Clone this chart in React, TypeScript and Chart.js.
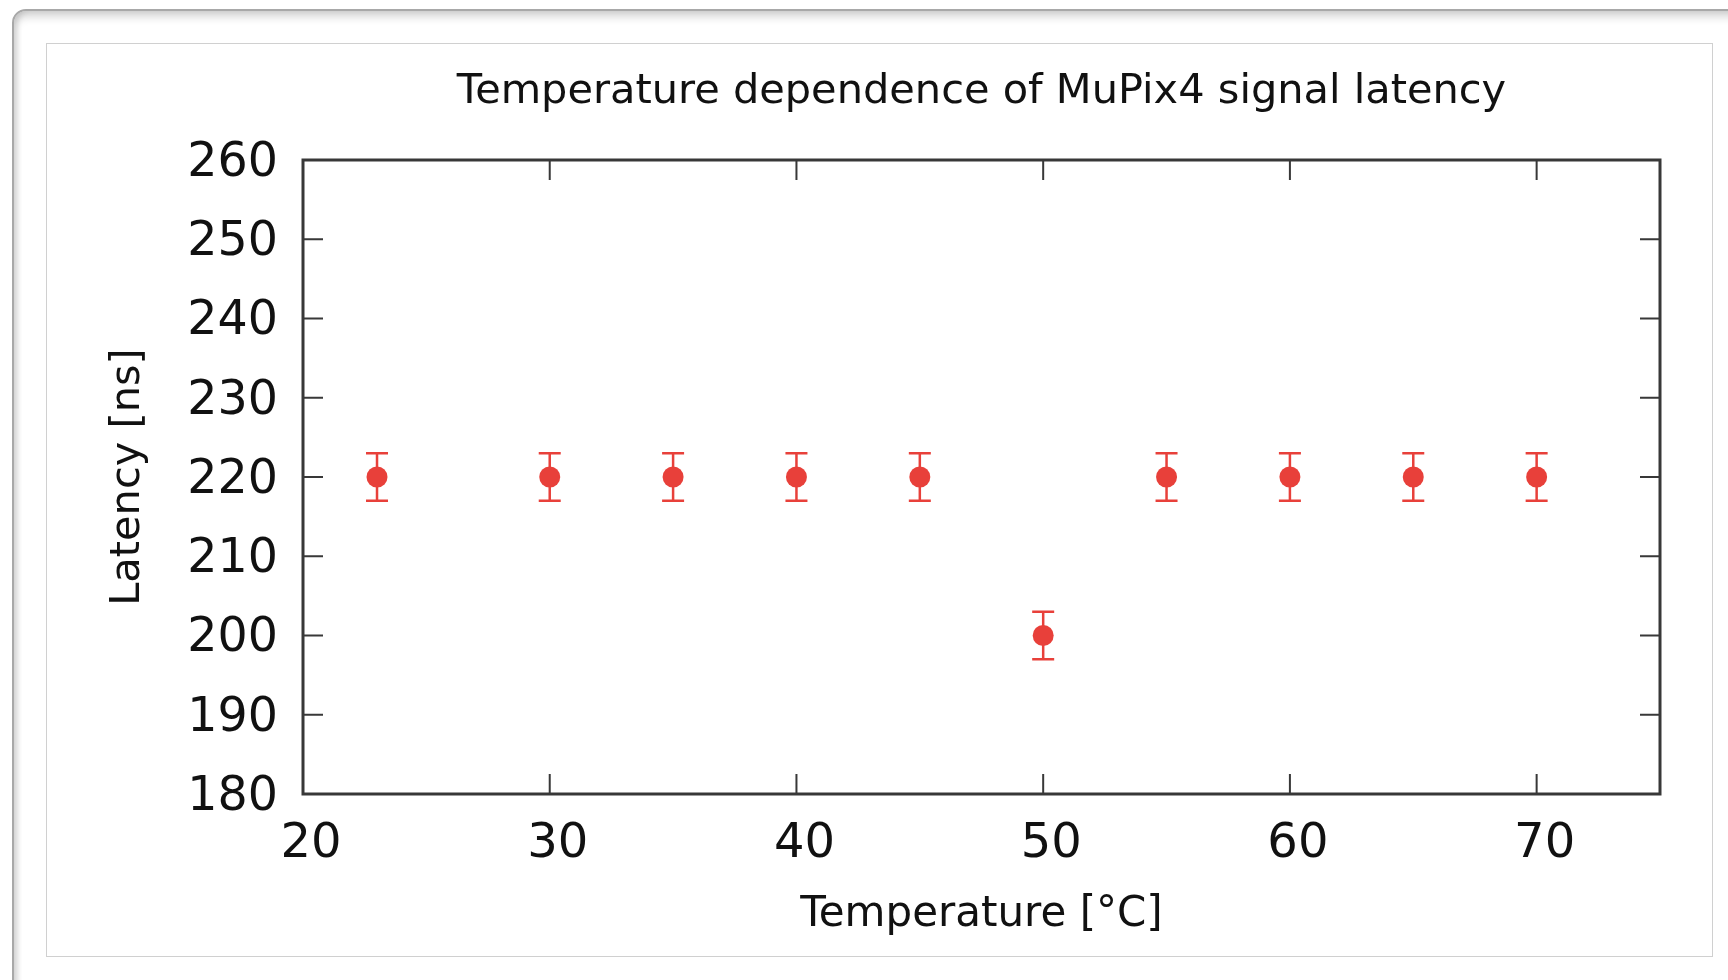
import React, { useEffect, useRef } from "react";
import { Chart, registerables } from "chart.js";

Chart.register(...registerables);

// ---- data ----
const temperatures = [23, 30, 35, 40, 45, 50, 55, 60, 65, 70];
const latencies = [220, 220, 220, 220, 220, 200, 220, 220, 220, 220];
const latencyErrors = [3, 3, 3, 3, 3, 3, 3, 3, 3, 3];
const xTickValues = [20, 30, 40, 50, 60, 70];
const yTickValues = [180, 190, 200, 210, 220, 230, 240, 250, 260];
const xRange = [20, 75];
const yRange = [180, 260];
const chartTitle = "Temperature dependence of MuPix4 signal latency";
const xAxisTitle = "Temperature [°C]";
const yAxisTitle = "Latency [ns]";

const FONT = "'DejaVu Sans', 'Liberation Sans', sans-serif";
const RED = "rgb(232, 64, 58)";
const AXIS = "#383838";
const TEXT = "#111111";

const errorBarsPlugin = {
  id: "errorBars",
  beforeDatasetsDraw(chart: any) {
    const { ctx, scales } = chart;
    const xs = scales.x;
    const ys = scales.y;
    ctx.save();
    ctx.strokeStyle = RED;
    ctx.lineWidth = 2.5;
    const cap = 11;
    ctx.beginPath();
    temperatures.forEach((t, i) => {
      const px = xs.getPixelForValue(t);
      const top = ys.getPixelForValue(latencies[i] + latencyErrors[i]);
      const bot = ys.getPixelForValue(latencies[i] - latencyErrors[i]);
      ctx.moveTo(px, top);
      ctx.lineTo(px, bot);
      ctx.moveTo(px - cap, top);
      ctx.lineTo(px + cap, top);
      ctx.moveTo(px - cap, bot);
      ctx.lineTo(px + cap, bot);
    });
    ctx.stroke();
    ctx.restore();
  },
};

const framePlugin = {
  id: "gnuplotFrame",
  beforeDatasetsDraw(chart: any) {
    const { ctx, chartArea: a, scales } = chart;
    const xs = scales.x;
    const ys = scales.y;
    const L = 20;
    ctx.save();
    ctx.strokeStyle = AXIS;
    ctx.lineWidth = 2;
    ctx.beginPath();
    xs.ticks.forEach((t: any) => {
      const px = xs.getPixelForValue(t.value);
      ctx.moveTo(px, a.bottom);
      ctx.lineTo(px, a.bottom - L);
      ctx.moveTo(px, a.top);
      ctx.lineTo(px, a.top + L);
    });
    ys.ticks.forEach((t: any) => {
      const py = ys.getPixelForValue(t.value);
      ctx.moveTo(a.left, py);
      ctx.lineTo(a.left + L, py);
      ctx.moveTo(a.right, py);
      ctx.lineTo(a.right - L, py);
    });
    ctx.stroke();
    ctx.lineWidth = 3;
    ctx.strokeRect(a.left, a.top, a.right - a.left, a.bottom - a.top);
    ctx.restore();
  },
};

export default function App() {
  const ref = useRef<HTMLCanvasElement>(null);

  useEffect(() => {
    if (!ref.current) return;
    const chart = new Chart(ref.current, {
      type: "scatter",
      data: {
        datasets: [
          {
            data: temperatures.map((t, i) => ({ x: t, y: latencies[i] })),
            backgroundColor: RED,
            borderColor: RED,
            borderWidth: 0,
            pointRadius: 10.5,
            pointHoverRadius: 10.5,
          },
        ],
      },
      options: {
        animation: false,
        responsive: false,
        events: [],
        layout: { padding: { left: 0, right: 68, top: 0, bottom: 0 } },
        plugins: {
          legend: { display: false },
          tooltip: { enabled: false },
          title: {
            display: true,
            text: chartTitle,
            fullSize: false,
            color: TEXT,
            font: { family: FONT, size: 41.5, weight: "normal", lineHeight: 1.2 },
            padding: { top: 67, bottom: 43.2 },
          },
        },
        scales: {
          x: {
            type: "linear",
            position: "bottom",
            min: xRange[0],
            max: xRange[1],
            afterBuildTicks: (s: any) => {
              s.ticks = xTickValues.map((v) => ({ value: v }));
            },
            afterFit: (s: any) => {
              s.height = 186;
            },
            grid: { display: false, drawTicks: false },
            border: { display: false },
            ticks: {
              color: TEXT,
              font: { family: FONT, size: 48, lineHeight: 1.2 },
              padding: 21.7,
              labelOffset: 8,
              maxRotation: 0,
              autoSkip: false,
            },
            title: {
              display: true,
              text: xAxisTitle,
              color: TEXT,
              font: { family: FONT, size: 42, lineHeight: 1.2 },
              padding: { top: 0, bottom: 39.8 },
            },
          },
          y: {
            type: "linear",
            position: "left",
            min: yRange[0],
            max: yRange[1],
            afterBuildTicks: (s: any) => {
              s.ticks = yTickValues.map((v) => ({ value: v }));
            },
            afterFit: (s: any) => {
              s.width = 303;
            },
            grid: { display: false, drawTicks: false },
            border: { display: false },
            ticks: {
              color: TEXT,
              font: { family: FONT, size: 47.5, lineHeight: 1.2 },
              padding: 25,
              labelOffset: 3.5,
              autoSkip: false,
            },
            title: {
              display: true,
              text: yAxisTitle,
              color: TEXT,
              font: { family: FONT, size: 41.5, lineHeight: 1.2 },
              padding: { top: 103.4, bottom: 0 },
            },
          },
        },
      },
      plugins: [framePlugin, errorBarsPlugin],
    } as any);
    return () => chart.destroy();
  }, []);

  return (
    <div
      style={{
        position: "absolute",
        left: 0,
        top: 0,
        width: 1728,
        height: 980,
        overflow: "hidden",
        background: "#ffffff",
      }}
    >
      <div
        style={{
          position: "absolute",
          left: 12,
          top: 9,
          width: 1800,
          height: 1100,
          boxSizing: "border-box",
          border: "2px solid #a8a8a8",
          borderRadius: 14,
          boxShadow:
            "inset 0 6px 8px rgba(0,0,0,0.16), inset 4px 0 5px rgba(0,0,0,0.10)",
        }}
      />
      <div
        style={{
          position: "absolute",
          left: 46,
          top: 43,
          width: 1667,
          height: 914,
          boxSizing: "border-box",
          border: "1px solid #d0d0d0",
        }}
      />
      <canvas
        ref={ref}
        width={1728}
        height={980}
        style={{ position: "absolute", left: 0, top: 0, width: 1728, height: 980 }}
      />
    </div>
  );
}
